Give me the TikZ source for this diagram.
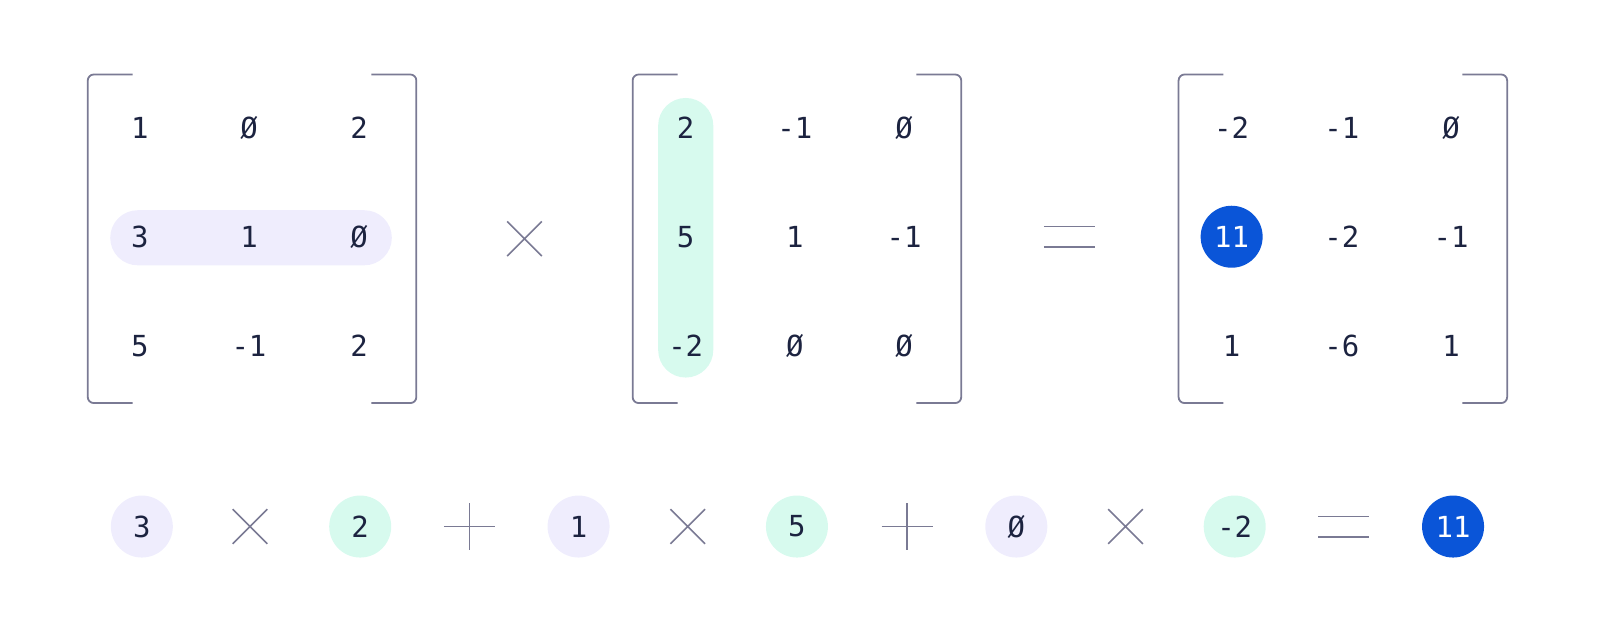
\documentclass[tikz,border=0pt]{standalone}
\usepackage{fontspec}
\setmonofont{DejaVu Sans Mono}
\definecolor{ink}{HTML}{1C2340}
\definecolor{rulegray}{HTML}{7A7A94}
\definecolor{lav}{HTML}{EFEDFD}
\definecolor{mint}{HTML}{D7FAEE}
\definecolor{hitblue}{HTML}{0A55D8}

\begin{document}
\begin{tikzpicture}[x=1.0204pt,y=-1.0204pt,
  entry/.style={font=\ttfamily\fontsize{29}{32}\selectfont, text=ink, inner sep=0pt},
  dot/.style={entry, circle, minimum size=62pt},
  lavdot/.style={dot, fill=lav},
  mintdot/.style={dot, fill=mint},
  hit/.style={dot, fill=hitblue, text=white},
  brk/.style={rulegray, line width=1.8pt, rounded corners=6pt},
  op/.style={rulegray, line width=1.6pt},
  timesop/.pic={\draw[op] (-17,-17) -- (17,17) (17,-17) -- (-17,17);},
  plusop/.pic={\draw[op] (-25,0) -- (25,0) (0,-23) -- (0,23);},
  equalsop/.pic={\draw[op] (-25,-10) -- (25,-10) (-25,10) -- (25,10);}]
     \useasboundingbox (0,0) rectangle (1568,626.2);

     % brackets
     \foreach \bx in {86, 620, 1155} {
       \draw[brk] (\bx+44,73) -- (\bx,73) -- (\bx,395) -- (\bx+44,395);
       \draw[brk] (\bx+278,73) -- (\bx+322,73) -- (\bx+322,395) -- (\bx+278,395);
     }

     % highlighted row and column
     \fill[lav, rounded corners=27.5pt] (108,206) rectangle (384,260);
     \fill[mint, rounded corners=27.5pt] (645,96) rectangle (699,370);

     % first matrix
     \node[entry] (a11) at (137,125) {1};
     \node[entry] (a12) at (244,125) {Ø};
     \node[entry] (a13) at (352,125) {2};
     \node[entry] (a21) at (137,232) {3};
     \node[entry] (a22) at (244,232) {1};
     \node[entry] (a23) at (352,232) {Ø};
     \node[entry] (a31) at (137,339) {5};
     \node[entry] (a32) at (244,339) {-1};
     \node[entry] (a33) at (352,339) {2};

     \pic at (514,234) {timesop};

     % second matrix
     \node[entry] (b11) at (672,125) {2};
     \node[entry] (b12) at (779,125) {-1};
     \node[entry] (b13) at (886,125) {Ø};
     \node[entry] (b21) at (672,232) {5};
     \node[entry] (b22) at (779,232) {1};
     \node[entry] (b23) at (886,232) {-1};
     \node[entry] (b31) at (672,339) {-2};
     \node[entry] (b32) at (779,339) {Ø};
     \node[entry] (b33) at (886,339) {Ø};

     \pic at (1048,232) {equalsop};

     % result
     \node[entry] (c11) at (1207,125) {-2};
     \node[entry] (c12) at (1315,125) {-1};
     \node[entry] (c13) at (1422,125) {Ø};
     \node[hit]   (c21) at (1207,232) {11};
     \node[entry] (c22) at (1315,232) {-2};
     \node[entry] (c23) at (1422,232) {-1};
     \node[entry] (c31) at (1207,339) {1};
     \node[entry] (c32) at (1315,339) {-6};
     \node[entry] (c33) at (1422,339) {1};

     % the sum written out
     \node[lavdot]  (s1) at (139,516) {3};
     \pic at (245,516) {timesop};
     \node[mintdot] (t1) at (353,516) {2};
     \pic at (460,516) {plusop};
     \node[lavdot]  (s2) at (567,516) {1};
     \pic at (674,516) {timesop};
     \node[mintdot] (t2) at (781,516) {5};
     \pic at (889,516) {plusop};
     \node[lavdot]  (s3) at (996,516) {Ø};
     \pic at (1103,516) {timesop};
     \node[mintdot] (t3) at (1210,516) {-2};
     \pic at (1317,516) {equalsop};
     \node[hit]     (sum) at (1424,516) {11};
\end{tikzpicture}
\end{document}
